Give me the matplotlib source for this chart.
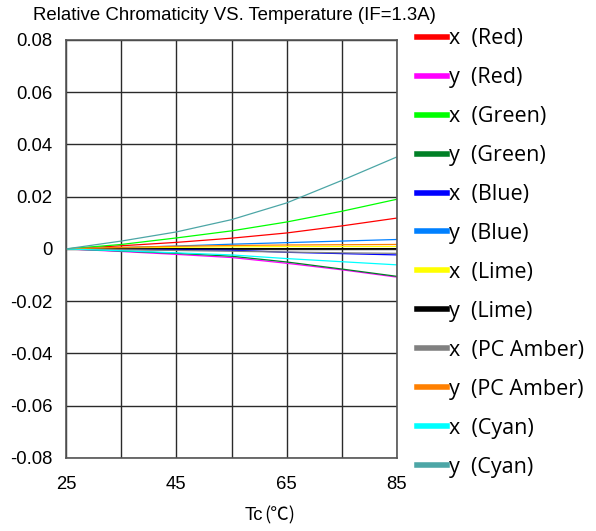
import matplotlib
matplotlib.use("Agg")
import matplotlib.pyplot as plt

matplotlib.rcParams['font.family'] = ['Liberation Sans', 'DejaVu Sans']

# temperature points (°C)
tc = [25, 35, 45, 55, 65, 75, 85]

# relative chromaticity shift
red_x = [0, 0.0012, 0.0025, 0.0041, 0.0061, 0.0088, 0.0118]
red_y = [0, -0.0010, -0.0021, -0.0033, -0.0055, -0.0080, -0.0108]
green_x = [0, 0.0017, 0.0042, 0.0069, 0.0103, 0.0144, 0.0190]
green_y = [0, -0.0008, -0.0017, -0.0028, -0.0050, -0.0077, -0.0105]
blue_x = [0, -0.0001, -0.0003, -0.0005, -0.0013, -0.0018, -0.0023]
blue_y = [0, 0.0005, 0.0011, 0.0018, 0.0024, 0.0030, 0.0036]
lime_x = [0, 0.0003, 0.0006, 0.0008, 0.0009, 0.0009, 0.0009]
lime_y = [0, 0.0000, 0.0001, 0.0001, 0.0001, 0.0001, 0.0001]
amber_x = [0, -0.0003, -0.0006, -0.0009, -0.0012, -0.0015, -0.0017]
amber_y = [0, 0.0006, 0.0010, 0.0013, 0.0015, 0.0016, 0.0017]
cyan_x = [0, -0.0007, -0.0015, -0.0023, -0.0037, -0.0049, -0.0061]
cyan_y = [0, 0.0030, 0.0065, 0.0112, 0.0176, 0.0262, 0.0352]

y_ticks = [-0.08, -0.06, -0.04, -0.02, 0, 0.02, 0.04, 0.06, 0.08]
y_labels = ["-0.08", "-0.06", "-0.04", "-0.02", "0", "0.02", "0.04", "0.06", "0.08"]
x_ticks = [25, 45, 65, 85]
x_minor = [35, 55, 75]

series = [
    ("x  (Red)", red_x, "#ff0000"),
    ("y  (Red)", red_y, "#ff00ff"),
    ("x  (Green)", green_x, "#00ff00"),
    ("y  (Green)", green_y, "#008026"),
    ("x  (Blue)", blue_x, "#0000ff"),
    ("y  (Blue)", blue_y, "#0080ff"),
    ("x  (Lime)", lime_x, "#ffff00"),
    ("y  (Lime)", lime_y, "#000000"),
    ("x  (PC Amber)", amber_x, "#808080"),
    ("y  (PC Amber)", amber_y, "#ff8000"),
    ("x  (Cyan)", cyan_x, "#00ffff"),
    ("y  (Cyan)", cyan_y, "#4ca6a6"),
]

fig = plt.figure(figsize=(5.96, 5.31), dpi=100)
ax = fig.add_axes([0.111, 0.1375, 0.555, 0.7875])

lines = []
for label, vals, col in series:
    ln, = ax.plot(tc, vals, color=col, lw=0.9, label=label)
    lines.append(ln)

ax.set_xlim(25, 85)
ax.set_ylim(-0.08, 0.08)
ax.set_xticks(x_ticks)
ax.set_xticks(x_minor, minor=True)
ax.set_yticks(y_ticks)
ax.set_yticklabels(y_labels)
ax.grid(True, which="both", color="#2a2a2a", lw=1.0)
ax.set_axisbelow(True)
ax.tick_params(which="both", length=0)
ax.tick_params(axis="y", labelsize=13.3, pad=10)
ax.tick_params(axis="x", labelsize=13.3, pad=13)
for s in ax.spines.values():
    s.set_color("#555555")
    s.set_linewidth(1.2)

fig.text(0.055, 0.971, "Relative Chromaticity VS. Temperature (IF=1.3A)",
         fontsize=13.4, ha="left", va="center")
# x axis label: latin part + CJK degree sign
fig.text(0.441, 0.030, "Tc", fontsize=13.3, ha="right", va="center")
fig.text(0.443, 0.030, "(℃)", fontsize=13.3, ha="left", va="center",
         family=["Noto Sans CJK SC", "DejaVu Sans"])

leg = fig.legend(handles=lines, loc="upper left", bbox_to_anchor=(0.70, 0.947),
                 frameon=False, handlelength=1.4, handletextpad=0.1,
                 labelspacing=0.835, borderaxespad=0, borderpad=0,
                 prop={"family": ["Open Sans", "DejaVu Sans"], "size": 15.5})
for h in leg.get_lines():
    h.set_linewidth(4)

fig.savefig("out.png", dpi=100)
